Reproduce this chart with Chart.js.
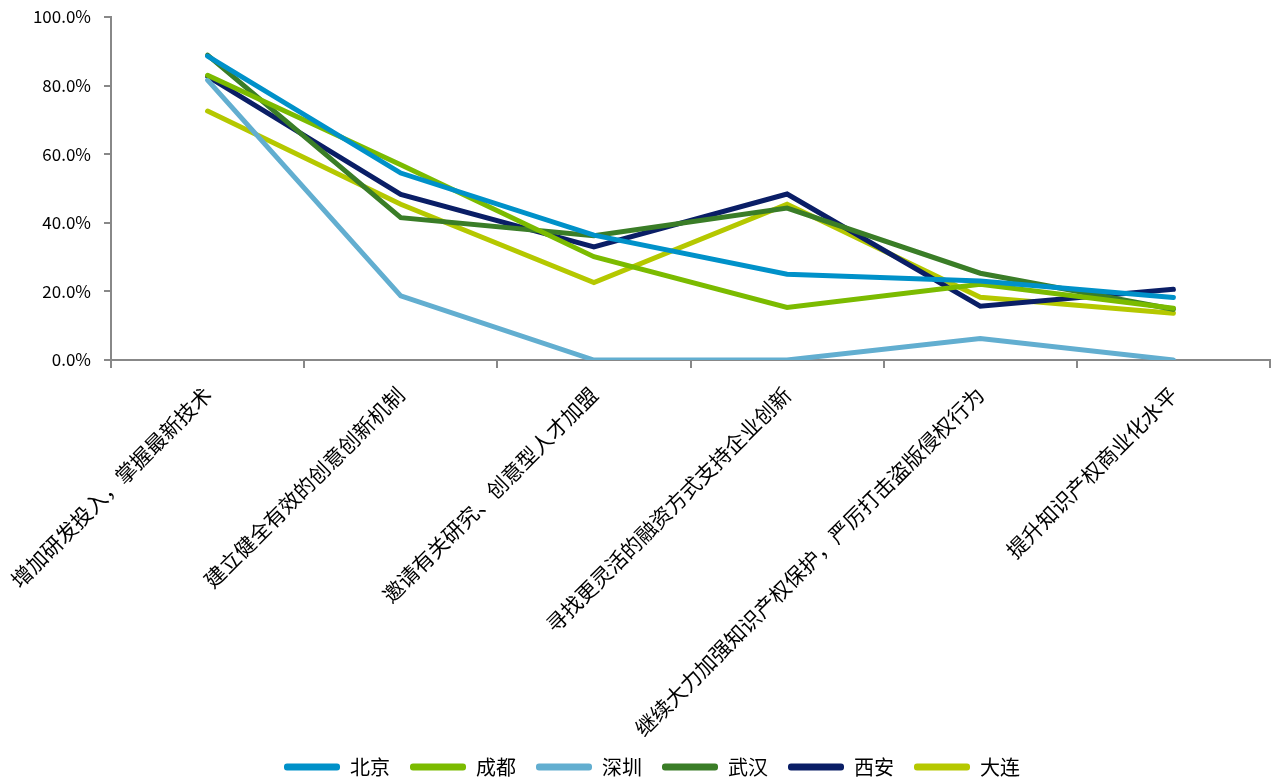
<!DOCTYPE html>
<html><head><meta charset="utf-8">
<script src="https://cdn.jsdelivr.net/npm/chart.js@4"></script>
<style>html,body{margin:0;padding:0;background:#fff}#wrap{width:1276px;height:781px;position:relative}</style>
</head><body><div id="wrap"><canvas id="c"></canvas></div>
<script>
const categories = ["增加研发投入，掌握最新技术","建立健全有效的创意创新机制","邀请有关研究、创意型人才加盟","寻找更灵活的融资方式支持企业创新","继续大力加强知识产权保护，严厉打击盗版侵权行为","提升知识产权商业化水平"];
const beijing  = [88.6, 54.5, 36.4, 25.0, 23.0, 18.2];
const chengdu  = [83.0, 56.9, 30.1, 15.3, 22.1, 15.1];
const shenzhen = [81.6, 18.7, 0.0, 0.0, 6.3, 0.0];
const wuhan    = [88.9, 41.5, 36.2, 44.3, 25.3, 14.8];
const xian     = [82.7, 48.3, 33.0, 48.4, 15.7, 20.6];
const dalian   = [72.6, 45.4, 22.6, 45.4, 18.3, 13.6];
const yTicks = [0, 20, 40, 60, 80, 100];

const FONT = '"Noto Sans CJK SC", "Noto Sans", sans-serif';
function ds(label, data, color){
  return {label, data, borderColor: color, backgroundColor: color, borderWidth: 5, pointRadius: 0, tension: 0, fill: false, borderCapStyle: 'round', borderJoinStyle: 'miter'};
}
function zeroPad(s){ s.paddingLeft = 0; s.paddingRight = 0; s.paddingTop = 0; s.paddingBottom = 0; }
const legendPatch = {
  id: 'legendPatch',
  beforeLayout(chart){
    const lg = chart.legend;
    if (lg && !lg._patched){
      const f = lg.fit.bind(lg);
      lg.fit = function(){ f(); this.height = 44; };
      lg._patched = true;
    }
  },
  afterLayout(chart){
    const lg = chart.legend;
    if (lg){ lg.left += 17; lg.right += 17; }
  }
};
new Chart(document.getElementById('c'), {
  type: 'line',
  data: {
    labels: categories,
    datasets: [
      ds('北京', beijing, '#0091c9'),
      ds('成都', chengdu, '#7bbb00'),
      ds('深圳', shenzhen, '#62aed0'),
      ds('武汉', wuhan, '#3a7d27'),
      ds('西安', xian, '#0a1e66'),
      ds('大连', dalian, '#b5c800')
    ]
  },
  plugins: [legendPatch],
  options: {
    responsive: true, maintainAspectRatio: false, animation: false,
    layout: {padding: {left: 0, right: 6, top: 17, bottom: 0}},
    plugins: {
      tooltip: {enabled: false},
      legend: {position: 'bottom', labels: {
        boxWidth: 56, boxHeight: 7, padding: 20, color: '#000', useBorderRadius: true, borderRadius: 3,
        font: {family: FONT, size: 20},
        generateLabels: chart => Chart.defaults.plugins.legend.labels.generateLabels(chart).map(l => Object.assign(l, {lineWidth: 0}))
      }}
    },
    scales: {
      x: {
        offset: true,
        afterFit: s => { s.height = 377; zeroPad(s); },
        grid: {offset: true, drawOnChartArea: false, drawTicks: true, tickLength: 8, color: '#888', lineWidth: 2},
        border: {color: '#888', width: 2},
        ticks: {maxRotation: 45, minRotation: 45, autoSkip: false, color: '#000', padding: 14, font: {family: FONT, size: 21}}
      },
      y: {
        min: 0, max: 100,
        afterFit: s => { s.width = 111; zeroPad(s); },
        afterBuildTicks: a => { a.ticks = yTicks.map(v => ({value: v})); },
        grid: {drawOnChartArea: false, drawTicks: true, tickLength: 7, color: '#888', lineWidth: 2},
        border: {color: '#888', width: 2},
        ticks: {color: '#000', padding: 13, font: {family: FONT, size: 17}, callback: v => v.toFixed(1) + '%'}
      }
    }
  }
});
</script></body></html>
